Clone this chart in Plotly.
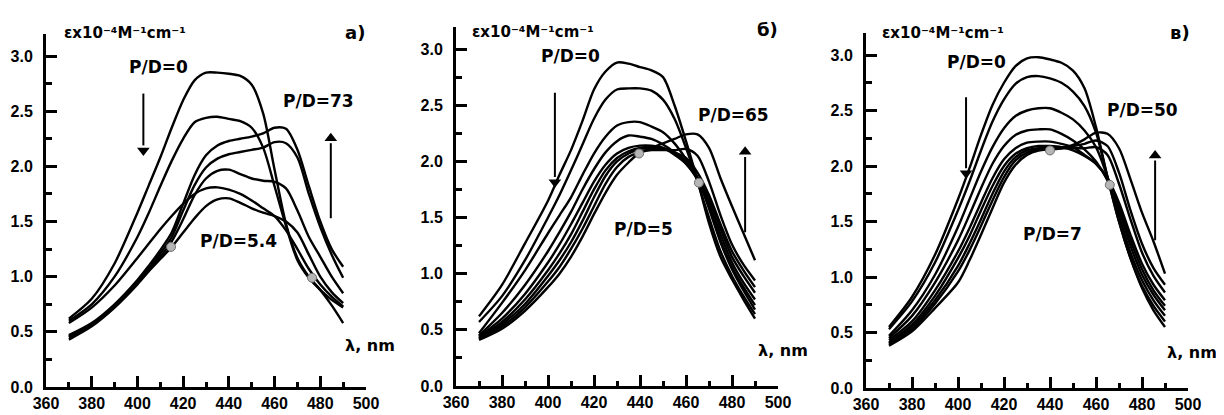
"""Спектры поглощения при титровании — три панели a), б), в)."""
import plotly.graph_objects as go

WL = [370, 380, 390, 400, 405, 410, 415, 420, 425, 430, 435,
      440, 445, 450, 455, 460, 465, 470, 475, 480, 485, 490]

# панель a)
A1 = [0.62, 0.80, 1.12, 1.58, 1.83, 2.08, 2.35, 2.60, 2.78, 2.85, 2.85, 2.84, 2.82, 2.74, 2.48, 1.97, 1.48, 1.17, 1.00, 0.88, 0.74, 0.58]
A2 = [0.60, 0.75, 1.00, 1.36, 1.58, 1.82, 2.05, 2.25, 2.40, 2.44, 2.45, 2.43, 2.41, 2.35, 2.17, 1.82, 1.46, 1.15, 0.99, 0.88, 0.79, 0.72]
A3 = [0.47, 0.58, 0.75, 0.97, 1.10, 1.24, 1.40, 1.66, 1.92, 2.10, 2.19, 2.23, 2.25, 2.27, 2.30, 2.35, 2.34, 2.15, 1.82, 1.50, 1.25, 1.09]
A4 = [0.46, 0.57, 0.74, 0.95, 1.08, 1.21, 1.36, 1.60, 1.83, 1.99, 2.07, 2.11, 2.13, 2.15, 2.17, 2.22, 2.21, 2.08, 1.75, 1.45, 1.20, 0.99]
A5 = [0.45, 0.56, 0.73, 0.94, 1.06, 1.18, 1.32, 1.52, 1.74, 1.89, 1.96, 1.97, 1.93, 1.89, 1.87, 1.86, 1.80, 1.60, 1.36, 1.18, 1.00, 0.85]
A6 = [0.58, 0.72, 0.92, 1.17, 1.30, 1.43, 1.55, 1.66, 1.75, 1.80, 1.81, 1.79, 1.75, 1.69, 1.62, 1.55, 1.42, 1.25, 1.07, 0.93, 0.82, 0.73]
A7 = [0.43, 0.55, 0.72, 0.93, 1.05, 1.16, 1.27, 1.40, 1.53, 1.64, 1.70, 1.71, 1.67, 1.62, 1.58, 1.55, 1.50, 1.40, 1.20, 1.00, 0.86, 0.76]

# панель б)
B1 = [0.62, 0.90, 1.27, 1.65, 1.88, 2.10, 2.36, 2.64, 2.80, 2.88, 2.87, 2.84, 2.81, 2.75, 2.50, 2.18, 1.83, 1.45, 1.15, 0.95, 0.77, 0.60]
B2 = [0.57, 0.80, 1.12, 1.50, 1.70, 1.92, 2.15, 2.38, 2.55, 2.64, 2.65, 2.65, 2.63, 2.55, 2.38, 2.12, 1.82, 1.50, 1.20, 0.98, 0.80, 0.64]
B3 = [0.47, 0.74, 1.03, 1.36, 1.52, 1.68, 1.88, 2.07, 2.22, 2.32, 2.35, 2.35, 2.31, 2.26, 2.16, 2.02, 1.85, 1.58, 1.28, 1.04, 0.85, 0.68]
B4 = [0.45, 0.65, 0.90, 1.20, 1.37, 1.55, 1.75, 1.93, 2.08, 2.18, 2.23, 2.22, 2.20, 2.15, 2.08, 1.98, 1.84, 1.60, 1.30, 1.06, 0.88, 0.72]
B5 = [0.44, 0.60, 0.82, 1.10, 1.26, 1.44, 1.63, 1.82, 1.97, 2.07, 2.12, 2.14, 2.14, 2.12, 2.06, 1.98, 1.84, 1.62, 1.35, 1.10, 0.92, 0.77]
B6 = [0.43, 0.57, 0.77, 1.03, 1.18, 1.35, 1.55, 1.75, 1.92, 2.03, 2.09, 2.12, 2.13, 2.12, 2.08, 2.00, 1.86, 1.66, 1.40, 1.15, 0.98, 0.83]
B7 = [0.42, 0.55, 0.73, 0.98, 1.12, 1.28, 1.47, 1.68, 1.87, 2.00, 2.07, 2.11, 2.12, 2.11, 2.08, 2.03, 1.90, 1.70, 1.44, 1.20, 1.03, 0.88]
B8 = [0.42, 0.53, 0.70, 0.93, 1.06, 1.22, 1.40, 1.60, 1.80, 1.95, 2.04, 2.08, 2.10, 2.10, 2.10, 2.11, 2.05, 1.82, 1.52, 1.26, 1.08, 0.94]
B9 = [0.41, 0.51, 0.67, 0.88, 1.00, 1.15, 1.33, 1.53, 1.72, 1.88, 1.99, 2.08, 2.12, 2.16, 2.20, 2.24, 2.24, 2.12, 1.85, 1.60, 1.36, 1.12]

# панель в)
C1 = [0.55, 0.82, 1.20, 1.70, 1.98, 2.28, 2.55, 2.75, 2.90, 2.97, 2.98, 2.96, 2.93, 2.86, 2.70, 2.35, 1.90, 1.50, 1.17, 0.90, 0.70, 0.55]
C2 = [0.53, 0.78, 1.13, 1.60, 1.86, 2.14, 2.40, 2.60, 2.74, 2.80, 2.81, 2.79, 2.75, 2.67, 2.54, 2.30, 1.90, 1.50, 1.17, 0.92, 0.74, 0.60]
C3 = [0.47, 0.70, 1.02, 1.45, 1.70, 1.95, 2.17, 2.34, 2.45, 2.50, 2.52, 2.52, 2.48, 2.42, 2.32, 2.17, 1.90, 1.55, 1.22, 0.97, 0.79, 0.65]
C4 = [0.45, 0.65, 0.95, 1.33, 1.56, 1.80, 2.02, 2.18, 2.28, 2.32, 2.33, 2.33, 2.29, 2.23, 2.15, 2.04, 1.87, 1.60, 1.28, 1.02, 0.84, 0.70]
C5 = [0.43, 0.60, 0.88, 1.23, 1.44, 1.67, 1.89, 2.06, 2.16, 2.21, 2.22, 2.22, 2.20, 2.17, 2.10, 2.02, 1.88, 1.63, 1.33, 1.07, 0.88, 0.74]
C6 = [0.41, 0.57, 0.83, 1.17, 1.37, 1.60, 1.82, 2.00, 2.11, 2.16, 2.18, 2.18, 2.17, 2.14, 2.09, 2.02, 1.89, 1.67, 1.38, 1.12, 0.93, 0.79]
C7 = [0.40, 0.55, 0.79, 1.10, 1.30, 1.52, 1.75, 1.95, 2.08, 2.14, 2.16, 2.16, 2.16, 2.16, 2.16, 2.17, 2.10, 1.84, 1.52, 1.22, 1.01, 0.86]
C8 = [0.39, 0.53, 0.76, 1.05, 1.24, 1.46, 1.69, 1.90, 2.05, 2.12, 2.15, 2.16, 2.17, 2.18, 2.20, 2.23, 2.18, 1.94, 1.60, 1.30, 1.08, 0.93]
C9 = [0.38, 0.51, 0.72, 0.95, 1.15, 1.38, 1.62, 1.85, 2.01, 2.10, 2.14, 2.15, 2.16, 2.19, 2.24, 2.30, 2.29, 2.16, 1.88, 1.58, 1.32, 1.03]

# изобестические точки
ISO_A_X, ISO_A_Y = [414.7, 476.4], [1.27, 0.99]
ISO_B_X, ISO_B_Y = [439.6, 465.6], [2.07, 1.81]
ISO_C_X, ISO_C_Y = [440.0, 466.0], [2.14, 1.83]

PANEL_LETTERS = ["a)", "б)", "в)"]
PD_TOP = ["P/D=0", "P/D=0", "P/D=0"]
PD_RIGHT = ["P/D=73", "P/D=65", "P/D=50"]
PD_MIN = ["P/D=5.4", "P/D=5", "P/D=7"]
Y_TITLE = "εx10⁻⁴M⁻¹cm⁻¹"
X_TITLE = "λ, nm"

X_TICKS = [360, 380, 400, 420, 440, 460, 480, 500]
Y_TICKS = [0.0, 0.5, 1.0, 1.5, 2.0, 2.5, 3.0]

FONT = "DejaVu Sans"
TICK_FONT = "Liberation Sans, Arial, sans-serif"
X_RANGE = [360, 500]
Y_RANGE = [0, 3.2]

# the page body has an 8px margin, so the figure is sized to fit the window
PAGE_W, PAGE_H, OFFSET = 1224, 415, 8
FIG_W, FIG_H = PAGE_W - OFFSET, PAGE_H - OFFSET


def xdom(left, right):
    return [(left - OFFSET) / FIG_W, (right - OFFSET) / FIG_W]


def ydom(bottom, top):
    return [(PAGE_H - bottom) / FIG_H, (PAGE_H - top) / FIG_H]


panels = [
    dict(curves=[A1, A2, A3, A4, A5, A6, A7], iso=(ISO_A_X, ISO_A_Y),
         xdom=xdom(46, 366), ydom=ydom(387, 34),
         top=(409.1, 2.90), right=(479.1, 2.59), low=(444.4, 1.32),
         down=(402.6, 2.66, 2.10), up=(484.6, 1.53, 2.30),
         title=(366.9, 3.21), letter=(495.2, 3.21), lam=(513.6, 0.38)),
    dict(curves=[B1, B2, B3, B4, B5, B6, B7, B8, B9], iso=(ISO_B_X, ISO_B_Y),
         xdom=xdom(456, 778), ydom=ydom(386, 26.6),
         top=(409.6, 2.94), right=(480.6, 2.41), low=(441.4, 1.40),
         down=(403.0, 2.61, 1.77), up=(485.7, 1.37, 2.13),
         title=(366.1, 3.15), letter=(495.4, 3.17), lam=(513.9, 0.32)),
    dict(curves=[C1, C2, C3, C4, C5, C6, C7, C8, C9], iso=(ISO_C_X, ISO_C_Y),
         xdom=xdom(866, 1188), ydom=ydom(388, 32.8),
         top=(408.1, 2.94), right=(480.2, 2.50), low=(440.9, 1.39),
         down=(403.5, 2.62, 1.89), up=(485.7, 1.33, 2.14),
         title=(366.1, 3.20), letter=(496.5, 3.20), lam=(513.5, 0.32)),
]

fig = go.Figure()
annotations = []
bold = dict(family=FONT, color="black", weight="bold")


def to_paper(p, x, y):
    # labels sitting outside the axis range have to be placed in paper coords
    px = p["xdom"][0] + (x - X_RANGE[0]) / (X_RANGE[1] - X_RANGE[0]) * (p["xdom"][1] - p["xdom"][0])
    py = p["ydom"][0] + (y - Y_RANGE[0]) / (Y_RANGE[1] - Y_RANGE[0]) * (p["ydom"][1] - p["ydom"][0])
    return px, py


for i, p in enumerate(panels):
    n = "" if i == 0 else str(i + 1)
    xr, yr = "x" + n, "y" + n
    for ys in p["curves"]:
        fig.add_trace(go.Scatter(
            x=WL, y=ys, mode="lines", xaxis=xr, yaxis=yr,
            line=dict(color="black", width=2.4, shape="spline", smoothing=0.8),
            showlegend=False, hoverinfo="skip",
        ))
    fig.add_trace(go.Scatter(
        x=p["iso"][0], y=p["iso"][1], mode="markers", xaxis=xr, yaxis=yr,
        marker=dict(size=9, color="#b5b5b5", line=dict(color="#6e6e6e", width=1)),
        showlegend=False, hoverinfo="skip",
    ))

    # стрелки: стержень + треугольный наконечник
    for ax_x, y0, y1 in (p["down"], p["up"]):
        sign = 1 if y1 > y0 else -1
        head = 0.09
        fig.add_trace(go.Scatter(
            x=[ax_x, ax_x], y=[y0, y1 - sign * head], mode="lines",
            xaxis=xr, yaxis=yr, line=dict(color="black", width=2),
            showlegend=False, hoverinfo="skip",
        ))
        fig.add_trace(go.Scatter(
            x=[ax_x], y=[y1 - sign * head / 2], mode="markers",
            xaxis=xr, yaxis=yr,
            marker=dict(symbol="triangle-up" if sign > 0 else "triangle-down",
                        size=11, color="black", line=dict(width=0)),
            showlegend=False, hoverinfo="skip",
        ))

    axis_common = dict(
        showline=True, linecolor="black", linewidth=3, showgrid=False,
        zeroline=False, ticks="inside", tickcolor="black", tickwidth=2.5,
        ticklen=11, automargin=False,
        tickfont=dict(size=16, family=TICK_FONT, color="black", weight="bold"),
    )
    fig.update_layout({
        "xaxis" + n: dict(
            domain=p["xdom"], range=X_RANGE, anchor=yr,
            tickvals=X_TICKS, ticklabelstandoff=0,
            minor=dict(dtick=10, tick0=360, ticks="inside", ticklen=5,
                       tickwidth=2.5, tickcolor="black"),
            **axis_common),
        "yaxis" + n: dict(
            domain=p["ydom"], range=Y_RANGE, anchor=xr,
            tickvals=Y_TICKS, tickformat=".1f", ticklabelstandoff=7,
            minor=dict(dtick=0.25, tick0=0, ticks="inside", ticklen=6,
                       tickwidth=2.5, tickcolor="black"),
            **axis_common),
    })

    def txt(pos, text, size, xanchor="center"):
        px, py = to_paper(p, *pos)
        annotations.append(dict(
            x=px, y=py, xref="paper", yref="paper", text=text, showarrow=False,
            xanchor=xanchor, yanchor="middle", font=dict(size=size, **bold),
        ))

    txt(p["top"], PD_TOP[i], 17)
    txt(p["right"], PD_RIGHT[i], 17)
    txt(p["low"], PD_MIN[i], 17)
    txt(p["title"], Y_TITLE, 15, "left")
    txt(p["letter"], PANEL_LETTERS[i], 18)
    txt(p["lam"], X_TITLE, 16, "right")

fig.update_layout(
    width=FIG_W, height=FIG_H,
    margin=dict(l=0, r=0, t=0, b=0, autoexpand=False),
    paper_bgcolor="white", plot_bgcolor="white",
    annotations=annotations,
)

fig.write_html("out.html")
